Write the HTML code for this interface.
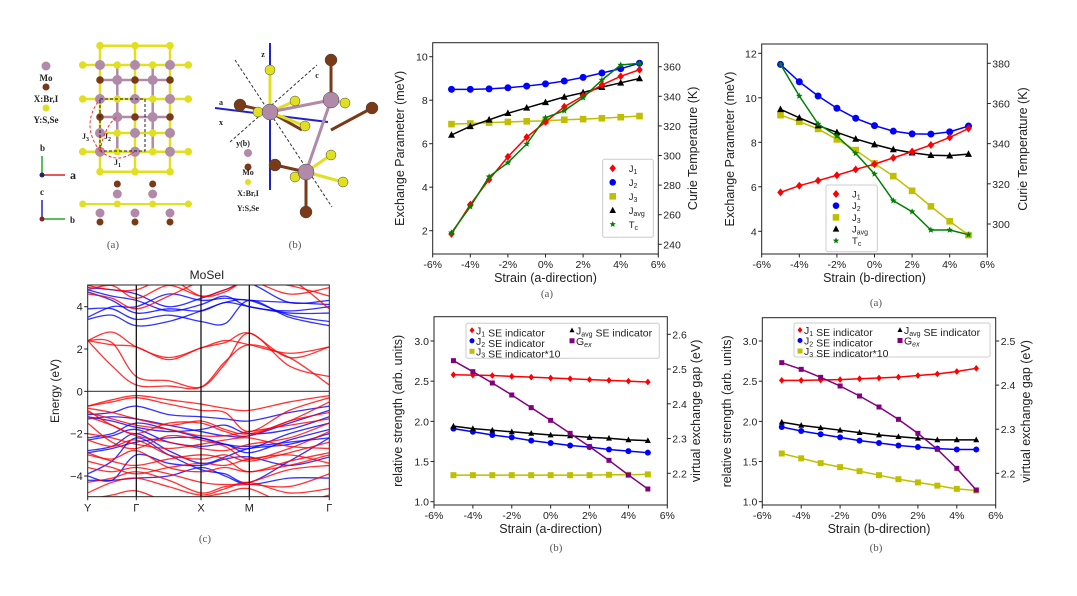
<!DOCTYPE html>
<html><head><meta charset="utf-8"><style>
html,body{margin:0;padding:0;background:#fff}
svg{display:block;font-family:"Liberation Sans","DejaVu Sans",sans-serif}
.s{font-family:"Liberation Serif",serif}
</style></head><body>
<svg id="g" width="1077" height="596" viewBox="0 0 1077 596" xmlns="http://www.w3.org/2000/svg">
<rect width="1077" height="596" fill="#fff"/>
<!-- structure (a) -->
<g id="structA"></g>
<g class="s" font-weight="bold" font-size="9" fill="#222">
<text x="46" y="81" text-anchor="middle">Mo</text>
<text x="46" y="102" text-anchor="middle">X:Br,I</text>
<text x="46" y="123" text-anchor="middle">Y:S,Se</text>
<text x="40" y="151">b</text><text x="70" y="179" font-size="12">a</text>
<text x="40" y="195">c</text><text x="70" y="223">b</text>
<text x="82" y="139" font-size="8">J<tspan font-size="6" dy="2">3</tspan></text>
<text x="104" y="139" font-size="8">J<tspan font-size="6" dy="2">2</tspan></text>
<text x="114" y="165" font-size="8">J<tspan font-size="6" dy="2">1</tspan></text>
</g>
<g stroke-width="1.5">
<line x1="42" y1="175" x2="42" y2="156" stroke="#2a2"/><line x1="42" y1="175" x2="65" y2="175" stroke="#d22"/>
<circle cx="42" cy="175" r="2.5" fill="#226"/>
<line x1="42" y1="219" x2="42" y2="200" stroke="#22c"/><line x1="42" y1="219" x2="65" y2="219" stroke="#2a2"/>
<circle cx="42" cy="219" r="2.5" fill="#822"/>
</g>
<g id="structB"></g>
<g class="s" fill="#555" font-size="11">
<text x="113" y="248" text-anchor="middle">(a)</text>
<text x="295" y="248" text-anchor="middle">(b)</text>
<text x="205" y="542" text-anchor="middle">(c)</text>
<text x="547" y="297" text-anchor="middle">(a)</text>
<text x="876" y="306" text-anchor="middle">(a)</text>
<text x="556" y="551" text-anchor="middle">(b)</text>
<text x="876" y="551" text-anchor="middle">(b)</text>
</g>
<g id="bands"></g>
<g id="charts"></g>
</svg>
<script>
const NS="http://www.w3.org/2000/svg";
function el(p,t,a,txt){const e=document.createElementNS(NS,t);for(const k in a)e.setAttribute(k,a[k]);if(txt!==undefined)e.innerHTML=txt;p.appendChild(e);return e;}
const G=document.getElementById('charts');
const MO="#b08aa8",XB="#7a3a18",YY="#e0e020";
// structure A
(function(){const g=document.getElementById('structA');
el(g,'circle',{cx:46,cy:66,r:4.5,fill:MO});el(g,'circle',{cx:46,cy:87,r:3.5,fill:XB});el(g,'circle',{cx:46,cy:108,r:3.5,fill:YY});
const cx=[82.7,100,117.3,135,152.7,170,188.3];
const rows=[[45.7,'_Y_Y_Y_'],[65,'YMYMYMY'],[80,'_XMXMX_'],[99,'YMYMYMY'],[117,'_XMXMX_'],[133,'_MYMYM_'],[151.7,'YMYMYMY'],[171.7,'_Y_Y_Y_']];
for(let i=1;i<6;i+=2)el(g,'line',{x1:cx[i],y1:45,x2:cx[i],y2:172,stroke:YY,'stroke-width':2.5});
for(let i=2;i<5;i+=2)el(g,'line',{x1:cx[i],y1:65,x2:cx[i],y2:152,stroke:MO,'stroke-width':2.5});
rows.forEach(r=>{if(r[1][0]=='Y'||r[1][1]!='_')el(g,'line',{x1:r[1][0]=='Y'?82:100,y1:r[0],x2:r[1][0]=='Y'?189:170,y2:r[0],stroke:r[1][1]=='X'?MO:YY,'stroke-width':2.5});
for(let i=0;i<7;i++){const c=r[1][i];if(c=='_')continue;el(g,'circle',{cx:cx[i],cy:r[0],r:c=='M'?5:3.8,fill:c=='M'?MO:c=='X'?XB:YY});}});
el(g,'rect',{x:100,y:99,width:45,height:52,fill:'none',stroke:'#222','stroke-dasharray':'3,2'});
el(g,'path',{d:'M100,151 Q80,125 100,99',fill:'none',stroke:'#e33','stroke-dasharray':'3,2'});
el(g,'path',{d:'M100,151 Q118,165 135,151',fill:'none',stroke:'#e33','stroke-dasharray':'3,2'});
el(g,'path',{d:'M100,151 Q105,125 117,117',fill:'none',stroke:'#e33','stroke-dasharray':'3,2'});
el(g,'line',{x1:80,y1:204,x2:192,y2:204,stroke:YY,'stroke-width':2});
for(let i=0;i<7;i++){const x=cx[i];if(i%2==1){el(g,'circle',{cx:x,cy:213,r:4.5,fill:MO});el(g,'circle',{cx:x,cy:222,r:3.5,fill:XB});}else{el(g,'circle',{cx:x,cy:204,r:3.5,fill:YY});}}
[117.3,152.7].forEach(x=>{el(g,'circle',{cx:x,cy:194,r:4.5,fill:MO});el(g,'circle',{cx:x,cy:184,r:3.5,fill:XB});});
})();
// structure B
(function(){const g=document.getElementById('structB');
el(g,'line',{x1:235,y1:60,x2:332,y2:207,stroke:'#333','stroke-dasharray':'3,2'});
el(g,'line',{x1:230,y1:142,x2:317,y2:65,stroke:'#333','stroke-dasharray':'3,2'});
el(g,'line',{x1:270,y1:43,x2:270,y2:190,stroke:'#22c','stroke-width':2});
el(g,'line',{x1:215,y1:108,x2:328,y2:122,stroke:'#22c','stroke-width':2});
const b=[[270,112,240,105,XB],[270,112,302,130,XB],[270,112,270,70,YY],[270,112,295,101,YY],[270,112,305,126,YY],[331,130,372,108,XB],[331,100,331,60,XB],[331,100,345,103,YY],[306,172,306,212,XB],[306,172,275,165,XB],[306,172,343,182,YY],[306,172,331,155,YY],[270,112,331,100,MO],[331,100,306,172,MO]];
b.forEach(l=>el(g,'line',{x1:l[0],y1:l[1],x2:l[2],y2:l[3],stroke:l[4],'stroke-width':3}));
const at=[[240,105,6,XB],[372,108,6,XB],[331,60,6,XB],[306,212,6,XB],[275,165,6,XB],[270,70,5,YY],[258,112,5,YY],[295,101,5,YY],[305,126,5,YY],[345,103,5,YY],[331,155,5,YY],[343,182,5,YY],[295,177,5,YY],[270,112,8,MO],[331,100,8,MO],[306,172,8,MO]];
at.forEach(a=>el(g,'circle',{cx:a[0],cy:a[1],r:a[2],fill:a[3],stroke:'#444','stroke-width':0.5}));
el(g,'circle',{cx:248,cy:153,r:4,fill:MO});el(g,'circle',{cx:248,cy:167,r:3.5,fill:XB});el(g,'circle',{cx:248,cy:182,r:3,fill:YY});
const t=[[248,175,'Mo'],[248,196,'X:Br,I'],[248,211,'Y:S,Se'],[263,57,'z'],[221,105,'a'],[317,78,'c'],[221,125,'x'],[243,146,'y(b)']];
t.forEach(a=>el(g,'text',{x:a[0],y:a[1],'font-size':8,'font-weight':'bold','text-anchor':'middle',class:'s',fill:'#222'},a[2]));
})();
function marker(p,type,x,y,c,sz){sz=sz||4;
if(type=='D')el(p,'path',{d:`M${x},${y-sz*1.2}L${x+sz},${y}L${x},${y+sz*1.2}L${x-sz},${y}Z`,fill:c});
else if(type=='o')el(p,'circle',{cx:x,cy:y,r:sz,fill:c});
else if(type=='s')el(p,'rect',{x:x-sz,y:y-sz,width:2*sz,height:2*sz,fill:c});
else if(type=='^')el(p,'path',{d:`M${x},${y-sz*1.1}L${x+sz},${y+sz*0.8}L${x-sz},${y+sz*0.8}Z`,fill:c});
else if(type=='*'){let d='';for(let i=0;i<10;i++){const r=i%2?sz*0.45:sz;const a=-Math.PI/2+i*Math.PI/5;d+=(i?'L':'M')+(x+r*Math.cos(a)).toFixed(1)+','+(y+r*Math.sin(a)).toFixed(1);}el(p,'path',{d:d+'Z',fill:c});}
}
function lin(v1,y1,v2,y2){return v=>y1+(v-v1)*(y2-y1)/(v2-v1);}
function chart(o){const L=o.L,R=o.R,T=o.T,B=o.B;const xs=s=>L+(s+6)/12*(R-L);
const g=el(G,'g',{});
o.series.forEach(s=>{const yf=s.px?(v=>v/3+s.off):(s.right?o.ry:o.ly);
const pts=s.d.map((v,i)=>[xs(i-5),yf(v)]);
el(g,'polyline',{points:pts.map(p=>p.join(',')).join(' '),fill:'none',stroke:s.c,'stroke-width':1.5});
pts.forEach(p=>marker(g,s.m,p[0],p[1],s.c,s.sz));});
el(g,'rect',{x:L,y:T,width:R-L,height:B-T,fill:'none',stroke:'#222','stroke-width':1});
for(let s=-6;s<=6;s+=2){const x=xs(s);el(g,'line',{x1:x,y1:B,x2:x,y2:B+3.5,stroke:'#222'});el(g,'text',{x:x,y:B+14,'font-size':10.5,'text-anchor':'middle',fill:'#222'},s+'%');}
o.lt.forEach(v=>{const y=o.ly(v);el(g,'line',{x1:L-3.5,y1:y,x2:L,y2:y,stroke:'#222'});el(g,'text',{x:L-5,y:y+4,'font-size':10.5,'text-anchor':'end',fill:'#222'},o.lf(v));});
o.rt.forEach(v=>{const y=o.ry(v);el(g,'line',{x1:R,y1:y,x2:R+3.5,y2:y,stroke:'#222'});el(g,'text',{x:R+5,y:y+4,'font-size':10.5,fill:'#222'},o.rf(v));});
el(g,'text',{x:(L+R)/2,y:B+28,'font-size':12.5,'text-anchor':'middle',fill:'#222'},o.xl);
el(g,'text',{x:o.ylx,y:(T+B)/2,'font-size':12.5,'text-anchor':'middle',fill:'#222',transform:`rotate(-90 ${o.ylx} ${(T+B)/2})`},o.yl);
el(g,'text',{x:o.yrx,y:(T+B)/2,'font-size':12.5,'text-anchor':'middle',fill:'#222',transform:`rotate(-90 ${o.yrx} ${(T+B)/2})`},o.yr);
return g;}
const J1='J<tspan font-size="7" dy="2">1</tspan>',J2='J<tspan font-size="7" dy="2">2</tspan>',J3='J<tspan font-size="7" dy="2">3</tspan>',JA='J<tspan font-size="7" dy="2">avg</tspan>',TC='T<tspan font-size="7" dy="2">c</tspan>';
function legendV(g,x,y,w,h,items){el(g,'rect',{x:x,y:y,width:w,height:h,fill:'#fff',stroke:'#ccc',rx:2});
items.forEach((it,i)=>{const yy=y+9+i*(h-10)/items.length*1.03;marker(g,it[0],x+10,yy,it[1],3.3);el(g,'text',{x:x+26,y:yy+3.5,'font-size':9.5,fill:'#222'},it[2]);});}
// TL
let g1=chart({L:432.7,R:658.3,T:42.7,B:254,ly:lin(10,56.7,2,230.7),ry:lin(360,66.7,240,244.3),lt:[2,4,6,8,10],rt:[240,260,280,300,320,340,360],lf:v=>v,rf:v=>v,xl:'Strain (a-direction)',yl:'Exchange Parameter (meV)',yr:'Curie Temperature (K)',ylx:404,yrx:697,
series:[{d:[8.5,8.5,8.52,8.57,8.65,8.75,8.88,9.05,9.25,9.45,9.7],c:'#0000ff',m:'o',sz:3.5},
{d:[6.9,6.93,6.97,7.0,7.03,7.05,7.1,7.13,7.17,7.22,7.27],c:'#bfbf00',m:'s',sz:3.3},
{d:[6.4,6.8,7.1,7.4,7.65,7.9,8.15,8.35,8.6,8.8,9.0],c:'#000',m:'^',sz:3.5},
{d:[1.85,3.2,4.35,5.4,6.3,7.0,7.7,8.2,8.7,9.1,9.4],c:'#ff0000',m:'D',sz:3.3},
{d:[608,530,440,398,342,263,242,203,150,105,100],px:1,off:30,c:'#008000',m:'*',sz:3.5}]});
legendV(g1,602.7,159.3,50.6,78,[['D','#ff0000',J1],['o','#0000ff',J2],['s','#bfbf00',J3],['^','#000',JA],['*','#008000',TC]]);
// TR
let g2=chart({L:761.7,R:987.3,T:44,B:254,ly:lin(12,53.3,4,231.3),ry:lin(380,63.3,300,224),lt:[4,6,8,10,12],rt:[300,320,340,360,380],lf:v=>v,rf:v=>v,xl:'Strain (b-direction)',yl:'Exchange Parameter (meV)',yr:'Curie Temperature (K)',ylx:734,yrx:1027,
series:[{d:[11.5,10.72,10.08,9.53,9.08,8.75,8.5,8.38,8.37,8.47,8.73],c:'#0000ff',m:'o',sz:3.5},
{d:[9.22,8.93,8.6,8.13,7.65,7.05,6.48,5.82,5.12,4.45,3.83],c:'#bfbf00',m:'s',sz:3.3},
{d:[9.48,9.1,8.75,8.45,8.15,7.9,7.68,7.53,7.42,7.4,7.47],c:'#000',m:'^',sz:3.5},
{d:[5.75,6.05,6.28,6.52,6.78,7.02,7.3,7.58,7.88,8.22,8.62],c:'#ff0000',m:'D',sz:3.3},
{d:[103,198,282,318,370,432,512,545,600,600,614],px:1,off:30,c:'#008000',m:'*',sz:3.5}]});
legendV(g2,826,185,51.3,66.7,[['D','#ff0000',J1],['o','#0000ff',J2],['s','#bfbf00',J3],['^','#000',JA],['*','#008000',TC]]);
function legendB(g,x,y,w,h,c2){el(g,'rect',{x:x,y:y,width:w,height:h,fill:'#fff',stroke:'#ccc',rx:2});
const it=[['D','#ff0000',J1+' SE indicator',0,0],['o','#0000ff',J2+' SE indicator',0,1],['s','#bfbf00',J3+' SE indicator*10',0,2],['^','#000',JA+' SE indicator',1,0],['s','#800080','G<tspan font-size="7" dy="2" font-style="italic">ex</tspan>',1,1]];
it.forEach(a=>{const xx=x+6+a[3]*c2,yy=y+7+a[4]*10.5;marker(g,a[0],xx,yy,a[1],2.5);el(g,'text',{x:xx+4,y:yy+4,'font-size':10.5,fill:'#222'},a[2]);});}
// BL
let g3=chart({L:434,R:667.3,T:316.7,B:505,ly:lin(3,341,1,501.7),ry:lin(2.6,334.3,2.2,473.3),lt:[1,1.5,2,2.5,3],rt:[2.2,2.3,2.4,2.5,2.6],lf:v=>v.toFixed(1),rf:v=>v.toFixed(1),xl:'Strain (a-direction)',yl:'relative strength (arb. units)',yr:'virtual exchange gap (eV)',ylx:402,yrx:700,
series:[{d:[2.58,2.575,2.57,2.56,2.55,2.54,2.53,2.52,2.51,2.5,2.49],c:'#ff0000',m:'D',sz:2.8},
{d:[1.91,1.87,1.83,1.80,1.76,1.73,1.70,1.68,1.65,1.63,1.61],c:'#0000ff',m:'o',sz:3},
{d:[1.33,1.33,1.33,1.33,1.33,1.33,1.33,1.33,1.335,1.335,1.34],c:'#bfbf00',m:'s',sz:3},
{d:[1.94,1.91,1.89,1.87,1.85,1.83,1.82,1.80,1.79,1.77,1.76],c:'#000',m:'^',sz:3},
{d:[167,200,234,270,308,346,385,425,466,510,552],px:1,off:305,c:'#800080',m:'s',sz:2.5}]});
legendB(g3,466,323.3,193.3,35,100);
// BR
let g4=chart({L:762.3,R:995.7,T:317.7,B:505,ly:lin(3,341,1,501.7),ry:lin(2.5,341,2.2,473.3),lt:[1,1.5,2,2.5,3],rt:[2.2,2.3,2.4,2.5],lf:v=>v.toFixed(1),rf:v=>v.toFixed(1),xl:'Strain (b-direction)',yl:'relative strength (arb. units)',yr:'virtual exchange gap (eV)',ylx:731,yrx:1030,
series:[{d:[2.51,2.51,2.515,2.52,2.53,2.54,2.55,2.57,2.59,2.62,2.66],c:'#ff0000',m:'D',sz:2.8},
{d:[1.93,1.88,1.84,1.80,1.76,1.73,1.70,1.68,1.66,1.65,1.65],c:'#0000ff',m:'o',sz:3},
{d:[1.60,1.54,1.48,1.43,1.38,1.33,1.28,1.24,1.20,1.16,1.14],c:'#bfbf00',m:'s',sz:3},
{d:[1.99,1.95,1.92,1.89,1.86,1.83,1.81,1.79,1.77,1.77,1.77],c:'#000',m:'^',sz:3},
{d:[173,193,217,243,273,306,343,385,433,490,555],px:1,off:305,c:'#800080',m:'s',sz:2.5}]});
legendB(g4,794,323,196,34,100);
// bands
(function(){const g=document.getElementById('bands');const L=87.7,R=329.3,T=285,B=496.7;const ey=lin(4,306.7,-4,476);
el(g,'clipPath',{id:'bc'});el(g.lastChild,'rect',{x:L,y:T,width:R-L,height:B-T});
const bx=[87.7,112,136.3,168.6,201,225,249.3,289.3,329.3];
const cg=el(g,'g',{'clip-path':'url(#bc)',fill:'none','stroke-width':1.3,'stroke-opacity':0.8});
function band(v,c){const p=v.map((e,i)=>[bx[i],ey(e)]);let d=`M${p[0][0]},${p[0][1]}`;
for(let i=0;i<p.length-1;i++){const p0=p[Math.max(0,i-1)],p1=p[i],p2=p[i+1],p3=p[Math.min(p.length-1,i+2)];
d+=`C${(p1[0]+(p2[0]-p0[0])/6).toFixed(1)},${(p1[1]+(p2[1]-p0[1])/6).toFixed(1)} ${(p2[0]-(p3[0]-p1[0])/6).toFixed(1)},${(p2[1]-(p3[1]-p1[1])/6).toFixed(1)} ${p2[0]},${p2[1]}`;}
el(cg,'path',{d:d,stroke:c});}
const blue=[[3.9,3.9,3.4,3.6,3.3,3.2,4.3,3.5,3.1],[3.4,3.6,3.1,3.3,3.8,4.2,4.3,3.6,3.3],[4.7,4.3,3.7,3.9,3.8,4.2,4.0,3.7,3.7],[4.8,4.5,4.3,3.8,4.1,4.5,4.0,3.8,4.0],[4.9,4.8,4.6,4.0,4.4,4.8,5.1,4.2,4.3],[3.5,4.0,4.0,4.6,4.3,4.4,4.3,4.2,4.1],
[-1.1,-1.0,-0.7,-1.1,-1.2,-1.3,-1.4,-1.0,-0.7],[-1.3,-1.2,-1.3,-1.6,-1.9,-2.1,-2.1,-1.5,-0.9],[-2.2,-2.0,-1.5,-1.8,-2.2,-2.5,-2.7,-2.0,-1.5],[-2.3,-2.1,-1.8,-2.4,-2.6,-2.5,-2.9,-2.3,-1.8],[-2.8,-2.6,-2.0,-2.8,-3.4,-3.1,-2.7,-2.5,-2.0],[-3.9,-3.3,-2.2,-3.0,-3.7,-3.9,-4.3,-3.3,-2.2],[-4.0,-4.2,-3.0,-3.4,-3.5,-3.2,-3.1,-3.5,-3.1],[-4.2,-4.2,-4.1,-4.0,-3.6,-4.0,-4.4,-4.1,-4.1],[-2.9,-2.7,-2.4,-2.2,-2.2,-2.5,-2.6,-2.4,-2.2],[-1.2,-1.4,-1.7,-1.9,-1.8,-1.6,-2.0,-1.8,-1.2]];
const red=[[2.4,1.2,0.3,0.25,0.2,1.4,2.2,1.6,0.3],[2.4,2.3,0.7,0.5,0.2,1.3,2.75,1.2,0.7],[2.4,2.2,2.1,1.5,2.05,2.3,2.75,1.6,2.1],[2.4,2.8,2.1,1.6,2.05,2.4,2.2,1.8,2.1],
[4.8,5,4.4,5,4.5,4.8,5.2,5,4.5],[4.6,4.4,3.9,4.5,5.2,5.5,5.5,5.3,3.9],[5,4.8,4.8,5.3,4.5,4.7,5.2,4.6,4.9],
[-0.7,-0.4,-0.2,-0.4,-0.6,-0.8,-0.9,-0.5,-0.2],[-0.7,-0.5,-0.3,-0.6,-0.9,-1.0,-1.9,-0.9,-0.3],[-0.8,-1.0,-1.3,-1.6,-1.4,-1.8,-2.0,-1.4,-0.5],[-1.0,-1.3,-1.6,-1.8,-2.1,-2.1,-1.9,-1.6,-1.3],[-1.2,-1.6,-2.1,-2.4,-2.7,-2.8,-2.5,-2.2,-1.5],[-1.5,-2.4,-2.7,-2.1,-2.3,-2.6,-3.2,-2.7,-1.9],[-2.3,-2.6,-2.3,-3.0,-3.2,-3.0,-3.3,-2.9,-2.4],[-2.9,-3.3,-3.5,-3.2,-3.0,-3.2,-3.8,-3.3,-2.9],[-3.0,-3.2,-2.8,-3.6,-3.8,-3.6,-3.8,-3.5,-3.0],[-3.6,-3.8,-3.6,-3.9,-4.3,-4.4,-4.3,-3.7,-3.5],[-4.3,-4.1,-3.8,-4.2,-4.8,-4.5,-4.4,-4.5,-3.9],[-4.8,-4.3,-4.1,-4.5,-4.9,-4.6,-4.3,-4.8,-4.6],[-5.1,-4.9,-4.7,-5.2,-5.0,-4.8,-4.6,-5.3,-4.9],[-0.9,-1.6,-2.0,-1.5,-1.5,-1.9,-2.1,-1.4,-1.0],[-2.0,-2.2,-2.5,-2.7,-2.5,-2.3,-2.2,-2.6,-2.7],[-3.3,-3.6,-3.9,-3.6,-3.4,-3.5,-3.2,-3.0,-3.4]];
blue.forEach(b=>band(b,'#0000ff'));red.forEach(b=>band(b,'#ff0000'));
el(g,'line',{x1:L,y1:ey(0),x2:R,y2:ey(0),stroke:'#555','stroke-width':1.2});
[136.3,201,249.3].forEach(x=>el(g,'line',{x1:x,y1:T,x2:x,y2:B,stroke:'#000','stroke-width':1.2}));
el(g,'rect',{x:L,y:T,width:R-L,height:B-T,fill:'none',stroke:'#222'});
[4,2,0,-2,-4].forEach(v=>{const y=ey(v);el(g,'line',{x1:L-3.5,y1:y,x2:L,y2:y,stroke:'#222'});el(g,'text',{x:L-5,y:y+4,'font-size':11,'text-anchor':'end',fill:'#222'},v<0?'\u2212'+(-v):v);});
[[87.7,'Y'],[136.3,'\u0393'],[201,'X'],[249.3,'M'],[329.3,'\u0393']].forEach(a=>{el(g,'line',{x1:a[0],y1:B,x2:a[0],y2:B+3.5,stroke:'#222'});el(g,'text',{x:a[0],y:B+15,'font-size':11,'text-anchor':'middle',fill:'#222'},a[1]);});
el(g,'text',{x:207,y:279,'font-size':12,'text-anchor':'middle',fill:'#222'},'MoSeI');
el(g,'text',{x:59,y:391,'font-size':12,'text-anchor':'middle',fill:'#222',transform:'rotate(-90 59 391)'},'Energy (eV)');
})();
</script>
</body></html>
